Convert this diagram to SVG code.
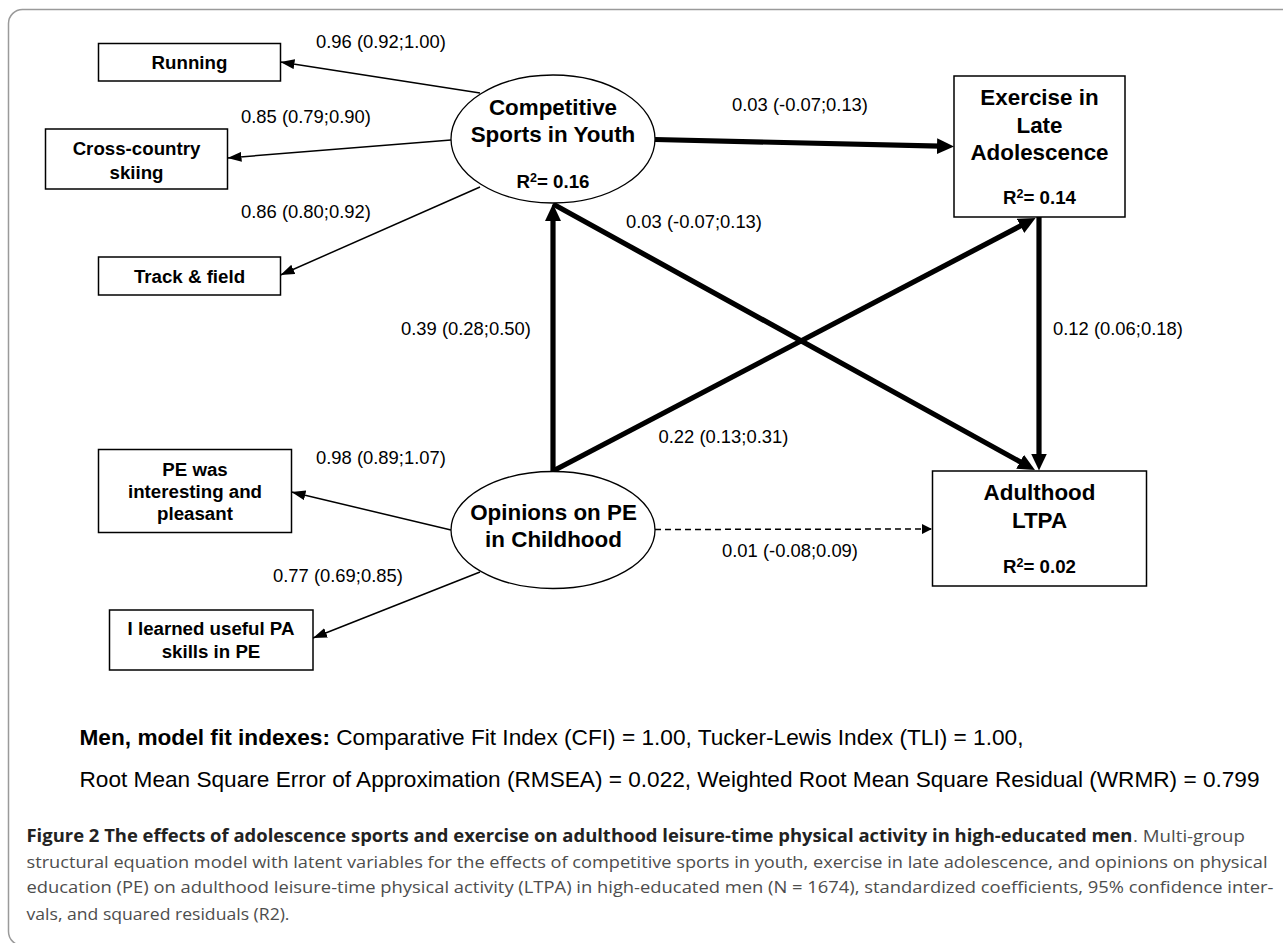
<svg xmlns="http://www.w3.org/2000/svg" width="1283" height="943" viewBox="0 0 1283 943">
<defs>
<style>
.frame{fill:none;stroke:#9a9a9a;stroke-width:1.5}
.box{fill:#fff;stroke:#000;stroke-width:1.5}
.ell{fill:#fff;stroke:#000;stroke-width:1.3}
.nl{font-family:"Liberation Sans",Arial,sans-serif;font-weight:bold;font-size:18.7px;text-anchor:middle;fill:#000}
.bl{font-family:"Liberation Sans",Arial,sans-serif;font-weight:bold;font-size:22.4px;text-anchor:middle;fill:#000}
.cl{font-family:"Liberation Sans",Arial,sans-serif;font-size:18.4px;fill:#000}
.thin{stroke:#000;stroke-width:1.5;fill:none;marker-end:url(#ah)}
.thick{stroke:#000;stroke-width:5.2;fill:none;marker-end:url(#ahk)}
.dash{stroke:#000;stroke-width:1.5;fill:none;stroke-dasharray:6 4;marker-end:url(#ahd)}
.fit{font-family:"Liberation Sans",Arial,sans-serif;font-size:22.3px;fill:#000}
.cap{font-family:"Open Sans","Noto Sans",sans-serif;font-size:17px;fill:#4d4d4d}
.capb{font-weight:bold;fill:#222}
.sup{font-size:12.5px}
</style>
<marker id="ah" markerUnits="userSpaceOnUse" markerWidth="14" markerHeight="10" refX="14" refY="5" orient="auto"><path d="M0,0 L14,5 L0,10 z" fill="#000"/></marker>
<marker id="ahk" markerUnits="userSpaceOnUse" markerWidth="17" markerHeight="16" refX="3" refY="8" orient="auto"><path d="M0,0 L17,8 L0,16 z" fill="#000"/></marker>
<marker id="ahd" markerUnits="userSpaceOnUse" markerWidth="10" markerHeight="10" refX="10" refY="5" orient="auto"><path d="M0,0 L10,5 L0,10 z" fill="#000"/></marker>
</defs>
<rect width="1283" height="943" fill="#fff"/>
<rect class="frame" x="8.5" y="9.5" width="1320" height="936" rx="14"/>

<g id="connectors">
<line class="thin" x1="480" y1="93" x2="280.5" y2="62"/>
<line class="thin" x1="451" y1="140" x2="227.5" y2="158"/>
<line class="thin" x1="480" y1="187" x2="280.5" y2="275"/>
<line class="thick" x1="655" y1="139.5" x2="940" y2="146.2"/>
<line class="thick" x1="553" y1="204" x2="1022.7" y2="463.2"/>
<line class="thick" x1="553" y1="471" x2="553" y2="218"/>
<line class="thick" x1="553" y1="471" x2="1023.2" y2="224.5"/>
<line class="thick" x1="1039" y1="217" x2="1039" y2="456.5"/>
<line class="thin" x1="451" y1="530" x2="291.5" y2="492"/>
<line class="thin" x1="480" y1="572" x2="313" y2="638"/>
<line class="dash" x1="655" y1="529.5" x2="932" y2="529"/>
<g id="edge-labels">
<text class="cl" x="316" y="47.7">0.96 (0.92;1.00)</text>
<text class="cl" x="241" y="123.3">0.85 (0.79;0.90)</text>
<text class="cl" x="241" y="218.3">0.86 (0.80;0.92)</text>
<text class="cl" x="732" y="111">0.03 (-0.07;0.13)</text>
<text class="cl" x="626" y="228">0.03 (-0.07;0.13)</text>
<text class="cl" x="401" y="335">0.39 (0.28;0.50)</text>
<text class="cl" x="1053" y="335">0.12 (0.06;0.18)</text>
<text class="cl" x="658.5" y="443.3">0.22 (0.13;0.31)</text>
<text class="cl" x="316" y="464.3">0.98 (0.89;1.07)</text>
<text class="cl" x="273" y="581.7">0.77 (0.69;0.85)</text>
<text class="cl" x="722" y="556.7">0.01 (-0.08;0.09)</text>
</g>
</g>

<g id="n-running">
<rect class="box" x="98.5" y="43.5" width="182" height="37.5"/>
<text class="nl" x="189.5" y="69">Running</text>
</g>
<g id="n-cross">
<rect class="box" x="45.5" y="129" width="182" height="60"/>
<text class="nl" x="136.5" y="155">Cross-country</text>
<text class="nl" x="136.5" y="178.5">skiing</text>
</g>
<g id="n-track">
<rect class="box" x="98.5" y="257" width="182" height="38"/>
<text class="nl" x="189.5" y="282.5">Track &amp; field</text>
</g>
<g id="n-competitive">
<ellipse class="ell" cx="553" cy="139" rx="102" ry="64"/>
<text class="bl" x="553" y="115">Competitive</text>
<text class="bl" x="553" y="141.7">Sports in Youth</text>
<text class="nl" x="553" y="188">R<tspan class="sup" dy="-6.5">2</tspan><tspan dy="6.5">= 0.16</tspan></text>
</g>
<g id="n-exercise">
<rect class="box" x="954" y="76" width="171" height="141"/>
<text class="bl" x="1039.5" y="105">Exercise in</text>
<text class="bl" x="1039.5" y="132.7">Late</text>
<text class="bl" x="1039.5" y="160">Adolescence</text>
<text class="nl" x="1039.5" y="204">R<tspan class="sup" dy="-6.5">2</tspan><tspan dy="6.5">= 0.14</tspan></text>
</g>
<g id="n-opinions">
<ellipse class="ell" cx="553" cy="530" rx="102" ry="58.5"/>
<text class="bl" x="553.5" y="520">Opinions on PE</text>
<text class="bl" x="553.5" y="546.7">in Childhood</text>
</g>
<g id="n-pe">
<rect class="box" x="98.5" y="449.5" width="193" height="83"/>
<text class="nl" x="195" y="476">PE was</text>
<text class="nl" x="195" y="498.3">interesting and</text>
<text class="nl" x="195" y="520">pleasant</text>
</g>
<g id="n-learned">
<rect class="box" x="109.5" y="610" width="203.5" height="60"/>
<text class="nl" x="211" y="635">I learned useful PA</text>
<text class="nl" x="211" y="657.5">skills in PE</text>
</g>
<g id="n-adulthood">
<rect class="box" x="932.5" y="471" width="214" height="115"/>
<text class="bl" x="1039.5" y="500">Adulthood</text>
<text class="bl" x="1039.5" y="527.7">LTPA</text>
<text class="nl" x="1039.5" y="573.3">R<tspan class="sup" dy="-6.5">2</tspan><tspan dy="6.5">= 0.02</tspan></text>
</g>

<g id="fit">
<text class="fit" x="79.5" y="745" textLength="944" lengthAdjust="spacingAndGlyphs"><tspan font-weight="bold">Men, model fit indexes:</tspan> Comparative Fit Index (CFI) = 1.00, Tucker-Lewis Index (TLI) = 1.00,</text>
<text class="fit" x="79.5" y="786.7" textLength="1180" lengthAdjust="spacingAndGlyphs">Root Mean Square Error of Approximation (RMSEA) = 0.022, Weighted Root Mean Square Residual (WRMR) = 0.799</text>
</g>

<g id="caption">
<text class="cap capb" x="26.5" y="841.7" textLength="1106" lengthAdjust="spacingAndGlyphs">Figure 2 The effects of adolescence sports and exercise on adulthood leisure-time physical activity in high-educated men</text>
<text class="cap" x="1133" y="841.7" textLength="112" lengthAdjust="spacingAndGlyphs">. Multi-group</text>
<text class="cap" x="26.5" y="868.3" textLength="1241" lengthAdjust="spacingAndGlyphs">structural equation model with latent variables for the effects of competitive sports in youth, exercise in late adolescence, and opinions on physical</text>
<text class="cap" x="26.5" y="893.3" textLength="1247" lengthAdjust="spacingAndGlyphs">education (PE) on adulthood leisure-time physical activity (LTPA) in high-educated men (N = 1674), standardized coefficients, 95% confidence inter-</text>
<text class="cap" x="26.5" y="920" textLength="263" lengthAdjust="spacingAndGlyphs">vals, and squared residuals (R2).</text>
</g>
</svg>
